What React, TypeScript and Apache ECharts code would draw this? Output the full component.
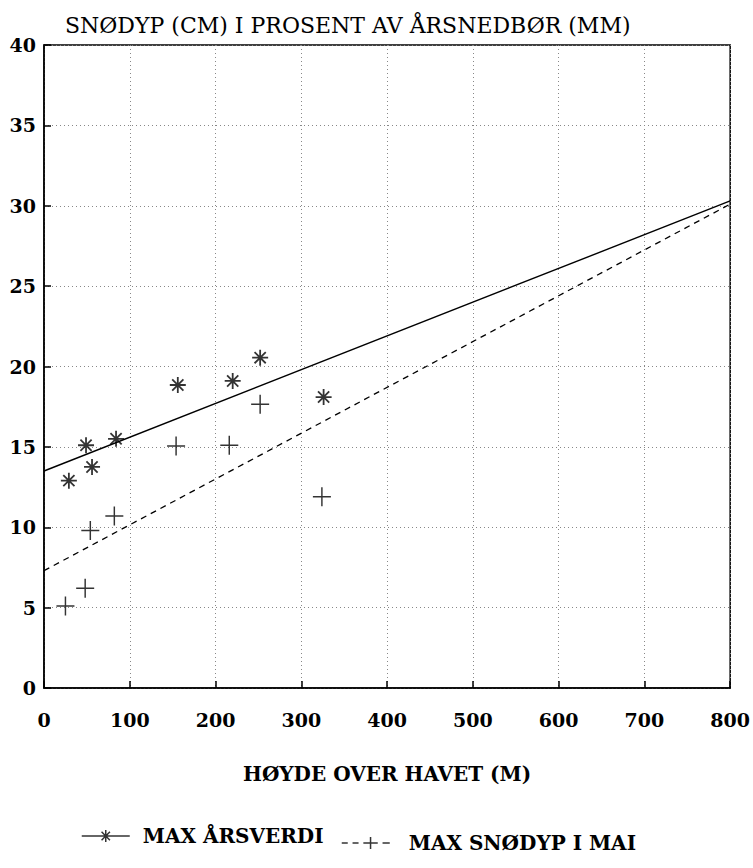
import React, { useEffect, useRef } from "react";
import * as echarts from "echarts";

const titleText = "SNØDYP (CM) I PROSENT AV ÅRSNEDBØR (MM)";
const xAxisName = "HØYDE OVER HAVET (M)";
const seriesNames = ["MAX ÅRSVERDI", "MAX SNØDYP I MAI"];

const yearMaxHeights = [29, 49, 56, 84, 156, 220, 252, 326];
const yearMaxValues = [12.9, 15.1, 13.75, 15.5, 18.85, 19.1, 20.55, 18.1];

const mayMaxHeights = [25, 48, 54, 82, 154, 216, 252, 324];
const mayMaxValues = [5.1, 6.2, 9.8, 10.7, 15.05, 15.1, 17.65, 11.9];

const yearFitX = [0, 800];
const yearFitY = [13.5, 30.3];
const mayFitX = [0, 800];
const mayFitY = [7.3, 30.1];

const FONT = "DejaVu Serif";

const asteriskPath =
  "path://M5 0 L5 10 M0 5 L10 5 M1.5 1.5 L8.5 8.5 M8.5 1.5 L1.5 8.5";
const plusPath = "path://M5 0 L5 10 M0 5 L10 5";
const legendStarIcon =
  "path://M0 5 L40 5 M20 0 L20 10 M16.5 1.5 L23.5 8.5 M23.5 1.5 L16.5 8.5";
const legendPlusIcon =
  "path://M0 5 L5 5 M9 5 L14 5 M18 5 L30 5 M24 0 L24 10 M34 5 L40 5";

export default function App() {
  const ref = useRef<HTMLDivElement>(null);
  useEffect(() => {
    if (!ref.current) return;
    const chart = echarts.init(ref.current, undefined, { renderer: "svg" });
    const zip = (xs: number[], ys: number[]) => xs.map((x, i) => [x, ys[i]]);
    const starItem = { color: "transparent", borderColor: "#000", borderWidth: 1.8 };
    const plusItem = { color: "transparent", borderColor: "#000", borderWidth: 1.5 };
    chart.setOption({
      animation: false,
      backgroundColor: "#fff",
      title: {
        text: titleText,
        left: 60,
        top: 9,
        textStyle: { fontFamily: FONT, fontSize: 22, fontWeight: "normal", color: "#000" },
      },
      grid: {
        left: 44,
        right: 16,
        top: 45,
        bottom: 180,
        show: true,
        borderColor: "#000",
        borderWidth: 1.5,
        containLabel: false,
      },
      legend: [
        {
          left: 76,
          top: 821,
          itemWidth: 48,
          itemHeight: 14,
          data: [{ name: seriesNames[0], icon: legendStarIcon, itemStyle: plusItem }],
          textStyle: { fontFamily: FONT, fontSize: 20, fontWeight: "bold", color: "#000", padding: [0, 0, 0, 8] },
        },
        {
          left: 336,
          top: 828,
          itemWidth: 48,
          itemHeight: 14,
          data: [{ name: seriesNames[1], icon: legendPlusIcon, itemStyle: plusItem }],
          textStyle: { fontFamily: FONT, fontSize: 20, fontWeight: "bold", color: "#000", padding: [0, 0, 0, 14] },
        },
      ],
      xAxis: {
        type: "value",
        min: 0,
        max: 800,
        interval: 100,
        name: xAxisName,
        nameLocation: "middle",
        nameGap: 76,
        nameTextStyle: { fontFamily: FONT, fontSize: 20, fontWeight: "bold", color: "#000" },
        axisLine: { show: true, lineStyle: { color: "#000", width: 1.5 } },
        axisTick: { show: true, inside: true, length: 7, lineStyle: { color: "#000", width: 1.5 } },
        axisLabel: { fontFamily: FONT, fontSize: 19, fontWeight: "bold", color: "#000", margin: 22 },
        splitLine: { show: true, lineStyle: { color: "#888", type: [1, 3], width: 1 } },
      },
      yAxis: {
        type: "value",
        min: 0,
        max: 40,
        interval: 5,
        axisLine: { show: true, lineStyle: { color: "#000", width: 1.5 } },
        axisTick: { show: true, inside: true, length: 7, lineStyle: { color: "#000", width: 1.5 } },
        axisLabel: { fontFamily: FONT, fontSize: 19, fontWeight: "bold", color: "#000", margin: 8 },
        splitLine: { show: true, lineStyle: { color: "#888", type: [1, 3], width: 1 } },
      },
      series: [
        {
          name: seriesNames[0],
          type: "scatter",
          data: zip(yearMaxHeights, yearMaxValues),
          symbol: asteriskPath,
          symbolSize: 16,
          itemStyle: starItem,
        },
        {
          name: seriesNames[1],
          type: "scatter",
          data: zip(mayMaxHeights, mayMaxValues),
          symbol: plusPath,
          symbolSize: [18, 19],
          itemStyle: plusItem,
        },
        {
          name: "fit1",
          type: "line",
          data: zip(yearFitX, yearFitY),
          showSymbol: false,
          symbol: "none",
          silent: true,
          lineStyle: { color: "#000", width: 1.4 },
        },
        {
          name: "fit2",
          type: "line",
          data: zip(mayFitX, mayFitY),
          showSymbol: false,
          symbol: "none",
          silent: true,
          lineStyle: { color: "#000", width: 1.3, type: [6, 5] },
        },
      ],
    });
    return () => chart.dispose();
  }, []);
  return <div ref={ref} style={{ width: 753, height: 868, position: "absolute", left: 0, top: 0 }} />;
}
